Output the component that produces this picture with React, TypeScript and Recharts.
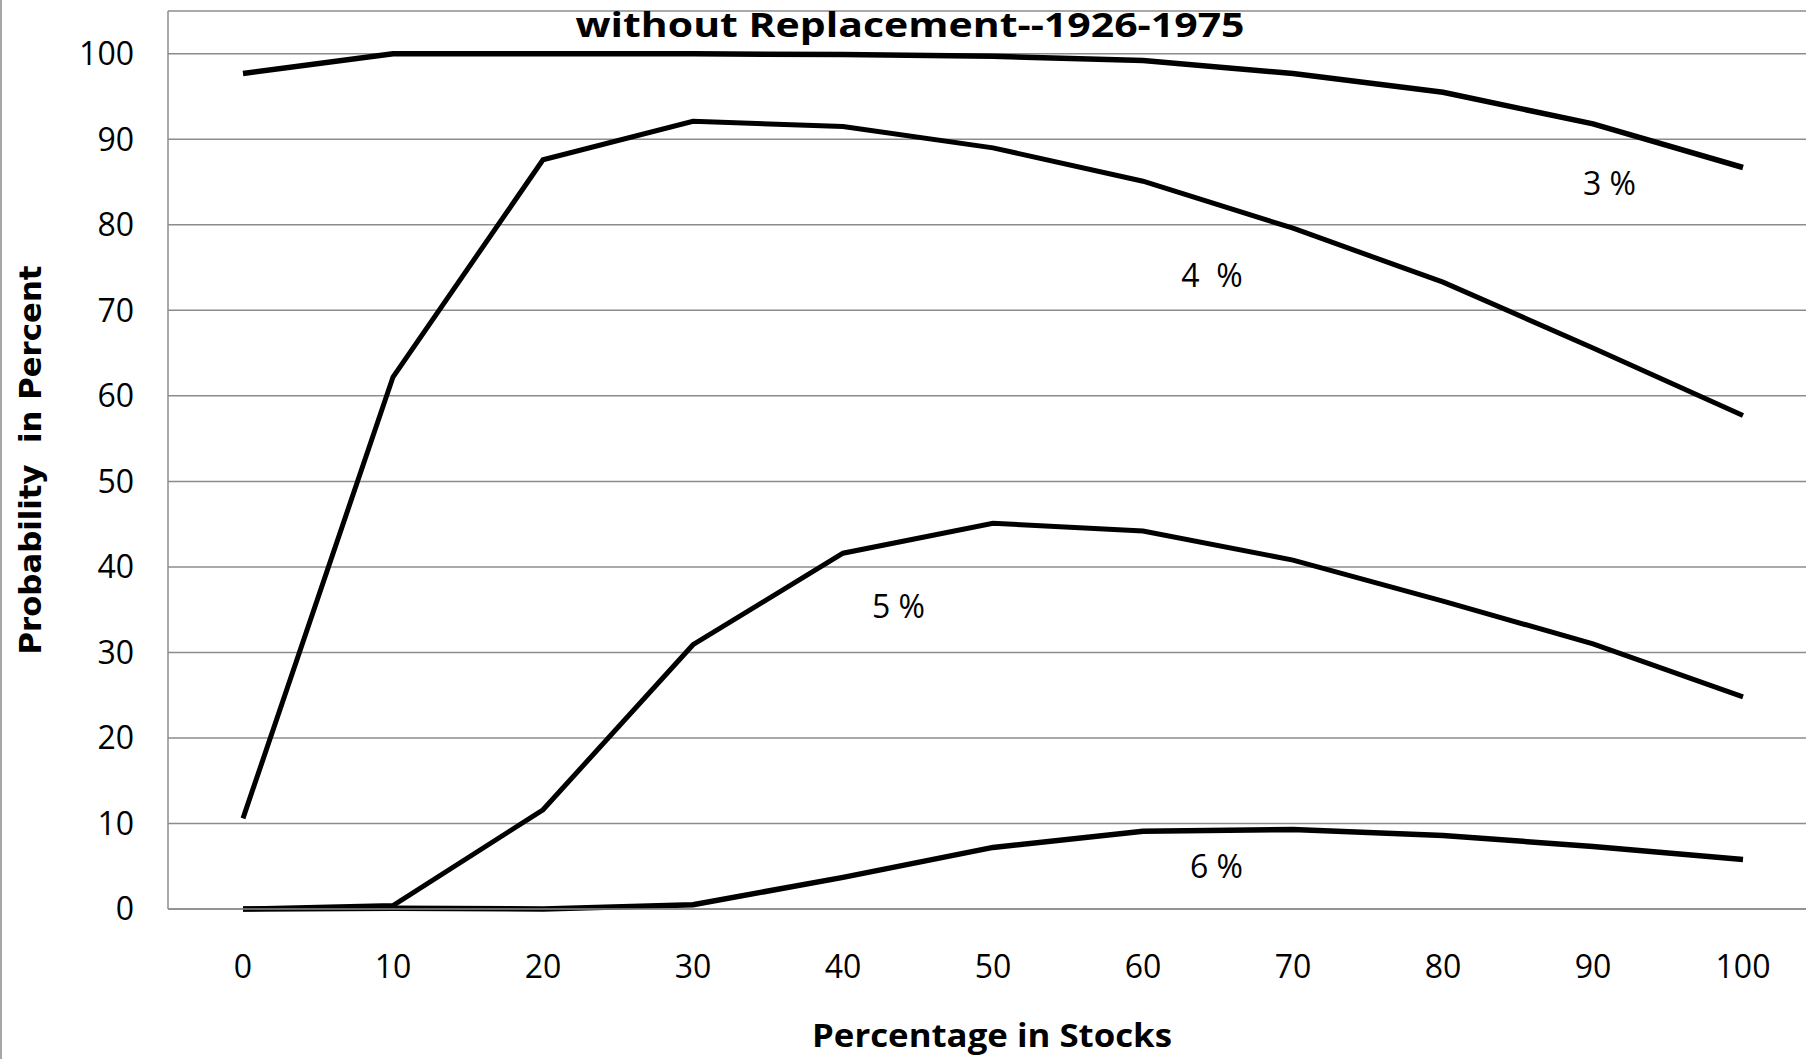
import { LineChart, Line, XAxis, YAxis, CartesianGrid, ReferenceDot } from 'recharts';

// 株式比率（%）
const stockPct = [0, 10, 20, 30, 40, 50, 60, 70, 80, 90, 100];

// 引出率ごとの成功確率（%）
const rate3 = [97.7, 100, 100, 100, 99.9, 99.7, 99.2, 97.7, 95.5, 91.8, 86.7];
const rate4 = [10.6, 62.2, 87.6, 92.1, 91.5, 89.0, 85.1, 79.6, 73.3, 65.6, 57.7];
const rate5 = [0, 0.4, 11.6, 30.9, 41.6, 45.1, 44.2, 40.8, 36.0, 31.0, 24.8];
const rate6 = [0, 0.1, 0, 0.5, 3.7, 7.2, 9.1, 9.3, 8.6, 7.3, 5.8];

const yTicks = [0, 10, 20, 30, 40, 50, 60, 70, 80, 90, 100];

// 曲線ラベル（データ座標）。「4  %」は空白2つ
const curveLabels = [
  { text: '3\u00a0%', pct: 91.1, prob: 84.8 },
  { text: '4\u00a0\u00a0%', pct: 64.6, prob: 74.0 },
  { text: '5\u00a0%', pct: 43.7, prob: 35.4 },
  { text: '6\u00a0%', pct: 64.9, prob: 5.0 },
];

const chartData = stockPct.map((pct, i) => ({
  pct,
  r3: rate3[i],
  r4: rate4[i],
  r5: rate5[i],
  r6: rate6[i],
}));

const gridColor = '#8c8c8c';
const tickFont = { fill: '#000', fontSize: 32, fontFamily: 'Open Sans' };

const App = () => {
  return (
    <div style={{ position: 'absolute', left: 0, top: 0, width: 1806, height: 1059, overflow: 'hidden', background: '#fff' }}>
      <LineChart
        width={1818}
        height={1059}
        data={chartData}
        margin={{ top: 11, right: 0, left: 0, bottom: 0 }}
      >
        <CartesianGrid vertical={false} stroke={gridColor} strokeWidth={1.5} />
        <XAxis
          dataKey="pct"
          type="number"
          domain={[-5, 105]}
          ticks={stockPct}
          interval={0}
          height={150}
          tickLine={false}
          tickSize={0}
          tickMargin={46}
          axisLine={{ stroke: gridColor, strokeWidth: 1.5 }}
          tick={tickFont}
        />
        <YAxis
          domain={[0, 105]}
          ticks={yTicks}
          interval={0}
          width={168}
          tickLine={false}
          tickSize={0}
          tickMargin={34}
          axisLine={{ stroke: gridColor, strokeWidth: 1.5 }}
          tick={tickFont}
        />
        <Line type="linear" dataKey="r3" stroke="#000" strokeWidth={5.5} dot={false} isAnimationActive={false} />
        <Line type="linear" dataKey="r4" stroke="#000" strokeWidth={5} dot={false} isAnimationActive={false} />
        <Line type="linear" dataKey="r5" stroke="#000" strokeWidth={5} dot={false} isAnimationActive={false} />
        <Line type="linear" dataKey="r6" stroke="#000" strokeWidth={5.5} dot={false} isAnimationActive={false} />
        {curveLabels.map((c) => (
          <ReferenceDot
            key={c.text}
            x={c.pct}
            y={c.prob}
            r={0}
            fill="none"
            stroke="none"
            label={{ value: c.text, position: 'center', ...tickFont }}
          />
        ))}
      </LineChart>
      <svg width={1806} height={1059} style={{ position: 'absolute', left: 0, top: 0, pointerEvents: 'none' }}>
        <line x1={1} y1={0} x2={1} y2={1059} stroke="#a6a6a6" strokeWidth={2} />
        <text x={910} y={37} textAnchor="middle" fontFamily="Open Sans" fontWeight={700} fontSize={34} textLength={669} lengthAdjust="spacingAndGlyphs">
          without Replacement--1926-1975
        </text>
        <text x={992} y={1047} textAnchor="middle" fontFamily="Open Sans" fontWeight={700} fontSize={33} textLength={360} lengthAdjust="spacingAndGlyphs">
          Percentage in Stocks
        </text>
        <text x={41} y={460} transform="rotate(-90 41 460)" textAnchor="middle" fontFamily="DejaVu Sans" fontWeight={700} fontSize={30} textLength={389} lengthAdjust="spacingAndGlyphs" style={{ whiteSpace: 'pre' }}>
          {'Probability  in Percent'}
        </text>
      </svg>
    </div>
  );
};

export default App;
